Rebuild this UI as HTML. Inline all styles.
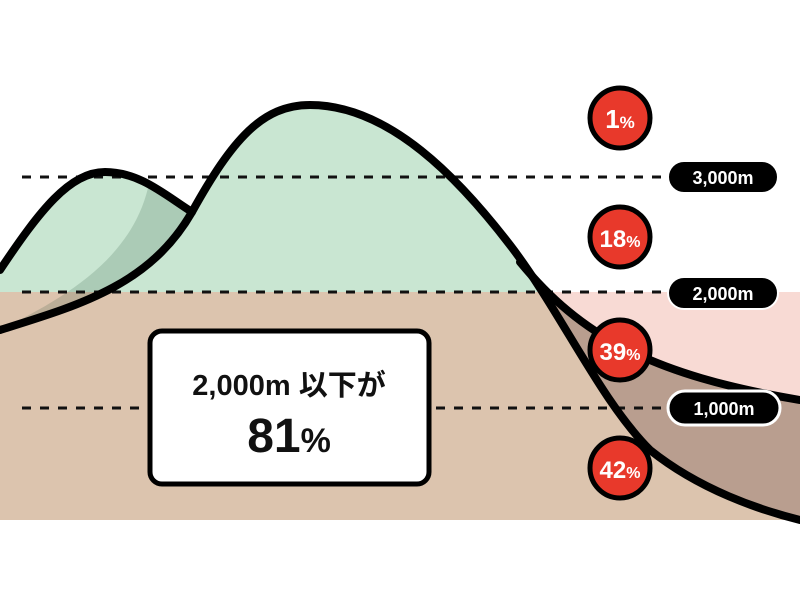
<!DOCTYPE html>
<html><head><meta charset="utf-8"><style>
html,body{margin:0;padding:0;background:#fff}
svg{display:block}
text{font-family:"Liberation Sans","Noto Sans CJK JP",sans-serif;font-weight:bold}
</style></head><body>
<svg width="800" height="600" viewBox="0 0 800 600">
<defs>
<clipPath id="above"><rect x="0" y="0" width="800" height="292"/></clipPath>
<clipPath id="below"><rect x="0" y="292" width="800" height="228"/></clipPath>
</defs>
<path clip-path="url(#above)" fill="#c9e6d2" d="M0,292 L0,270 C40,210 70,172 105,172 C140,172 165,195 192,212 C232,140 262,105 310,105 C390,105 460,180 510,245 C530,272 545,292 560,300 L0,300 Z"/>
<rect x="0" y="292" width="800" height="228" fill="#dcc4ae"/>
<g clip-path="url(#below)">
<rect x="530" y="292" width="270" height="228" fill="#f8dad4"/>
<path fill="#b99e8f" d="M520,262 C580,335 650,375 800,400 L800,520 L520,520 Z"/>
<path fill="#dcc4ae" d="M510,245 C560,310 600,400 650,450 C700,490 760,510 800,520 L0,520 L0,245 Z"/>
</g>
<path fill="rgba(20,60,40,0.16)" d="M148,188 Q175,200 192,212 C150,285 80,305 0,330 C60,300 130,262 148,188 Z"/>
<g stroke="#111" stroke-width="3" stroke-dasharray="9 9">
<line x1="22" y1="177" x2="665" y2="177"/>
<line x1="22" y1="292" x2="665" y2="292"/>
<line x1="22" y1="408" x2="665" y2="408"/>
</g>
<g fill="none" stroke="#000" stroke-width="8" stroke-linecap="round">
<path d="M0,270 C40,210 70,172 105,172 C140,172 165,195 192,212"/>
<path d="M0,330 C80,305 150,285 192,212 C232,140 262,105 310,105 C390,105 460,180 510,245 C560,310 600,400 650,450 C700,490 760,510 800,520"/>
<path d="M520,262 C580,335 650,375 800,400"/>
</g>
<g stroke="#000" stroke-width="5" fill="#e8392b">
<circle cx="620" cy="118" r="30"/>
<circle cx="620" cy="237" r="30"/>
<circle cx="620" cy="350" r="30"/>
<circle cx="620" cy="468" r="30"/>
</g>
<g fill="#fff" text-anchor="middle">
<text x="620" y="128" font-size="26">1<tspan font-size="17">%</tspan></text>
<text x="620" y="247" font-size="24">18<tspan font-size="16">%</tspan></text>
<text x="620" y="360" font-size="24">39<tspan font-size="16">%</tspan></text>
<text x="620" y="478" font-size="24">42<tspan font-size="16">%</tspan></text>
</g>
<rect x="668" y="161" width="110" height="32" rx="16" fill="#000" stroke="#fff" stroke-width="2"/>
<rect x="668" y="277" width="110" height="32" rx="16" fill="#000" stroke="#fff" stroke-width="2"/>
<rect x="668" y="391" width="112" height="34" rx="17" fill="#000" stroke="#fff" stroke-width="3"/>
<g fill="#fff" text-anchor="middle" font-size="18">
<text x="723" y="184">3,000m</text>
<text x="723" y="300">2,000m</text>
<text x="724" y="415">1,000m</text>
</g>
<rect x="150" y="331" width="279" height="153" rx="12" fill="#fff" stroke="#000" stroke-width="5"/>
<text x="289" y="395" text-anchor="middle" font-size="29" fill="#111">2,000m 以下が</text>
<text x="289" y="452" text-anchor="middle" font-size="48" fill="#111">81<tspan font-size="34">%</tspan></text>
</svg>
</body></html>
